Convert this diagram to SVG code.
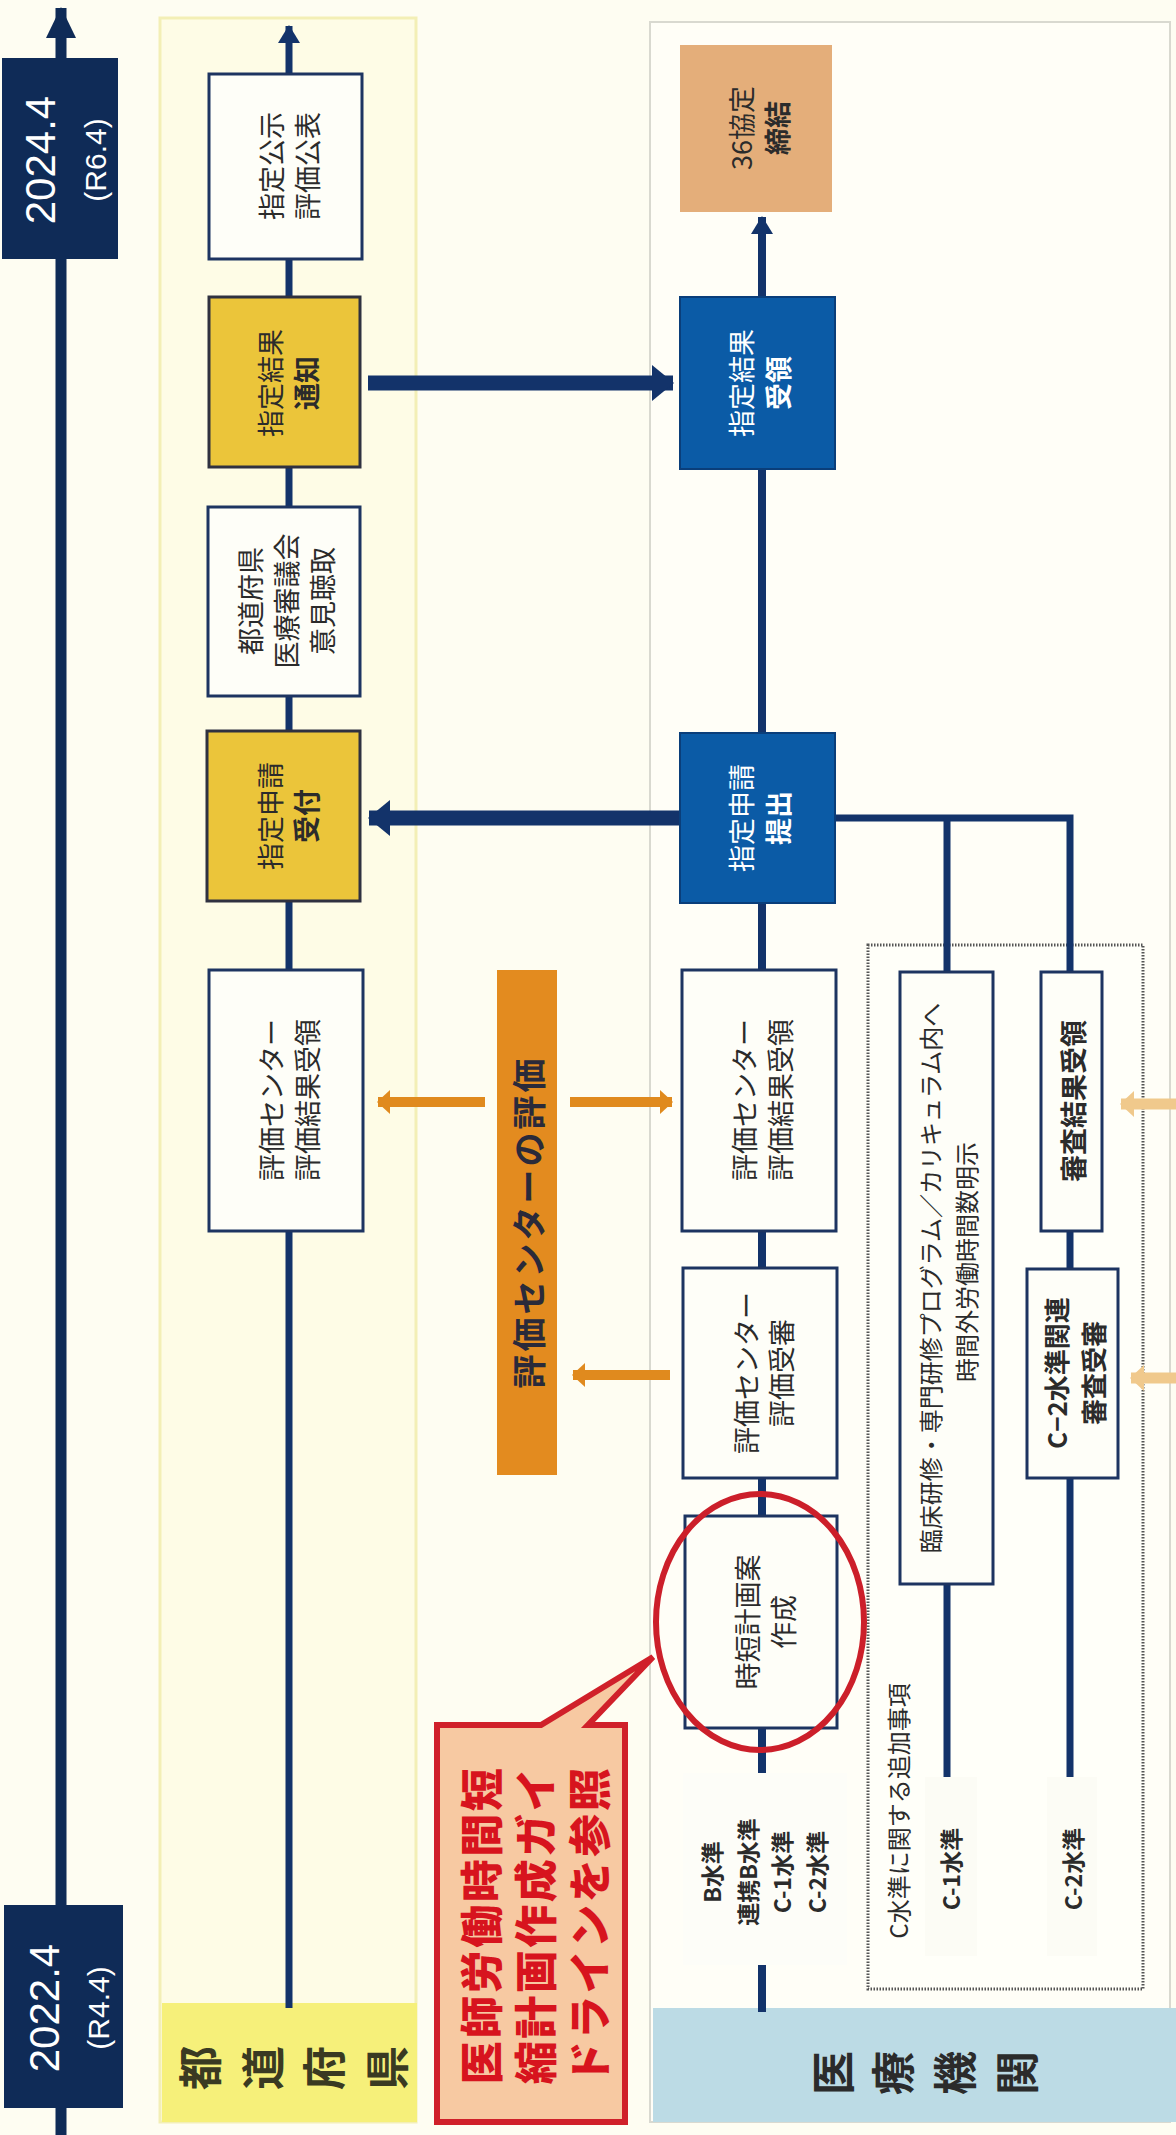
<svg xmlns="http://www.w3.org/2000/svg" width="1176" height="2135" viewBox="0 0 1176 2135">
<style>
text{font-family:"Noto Sans CJK JP","Noto Sans",sans-serif;text-anchor:middle;dominant-baseline:central;fill:#2b2b2b}
.bx{font-size:27px}
.b{font-weight:bold}
.w{fill:#ffffff}
.red{fill:#d7141e;font-weight:900;font-size:43px;letter-spacing:2.5px}
.olive{fill:#3a3a22}
.bar{fill:#2a2a3a;font-weight:bold;font-size:34px;letter-spacing:3px}
.num{font-family:"Liberation Sans",Arial,sans-serif;fill:#ffffff}
.wbox{fill:#fefef8;stroke:#1d3461;stroke-width:3}
.ybox{fill:#ebc53a;stroke:#2f3140;stroke-width:3}
.blbox{fill:#0b5ba6;stroke:#0a3e7a;stroke-width:2}
.nav{stroke:#13336a;fill:none}
.org{stroke:#e08a1e;stroke-width:10;fill:none}
.tan{stroke:#f0c98c;stroke-width:11;fill:none}
.lab{font-size:44px;font-weight:bold}
</style>
<defs>
<marker id="ahBig" markerUnits="userSpaceOnUse" markerWidth="22" markerHeight="36" refX="21" refY="18" orient="auto"><path d="M0,0 L22,18 L0,36 z" fill="#13336a"/></marker>
<marker id="ahSm" markerUnits="userSpaceOnUse" markerWidth="18" markerHeight="22" refX="17" refY="11" orient="auto"><path d="M0,0 L18,11 L0,22 z" fill="#13336a"/></marker>
<marker id="ahTime" markerUnits="userSpaceOnUse" markerWidth="31" markerHeight="30" refX="30" refY="15" orient="auto"><path d="M0,0 L31,15 L0,30 z" fill="#0f2b57"/></marker>
<marker id="ahOrg" markerUnits="userSpaceOnUse" markerWidth="13" markerHeight="24" refX="12" refY="12" orient="auto"><path d="M0,0 L13,12 L0,24 z" fill="#e08a1e"/></marker>
<marker id="ahTan" markerUnits="userSpaceOnUse" markerWidth="14" markerHeight="26" refX="13" refY="13" orient="auto"><path d="M0,0 L14,13 L0,26 z" fill="#f0c98c"/></marker>
</defs>

<rect x="0" y="0" width="1176" height="2135" fill="#fefdf2"/>

<!-- lanes -->
<g id="lane-pref">
<rect x="160" y="18" width="256" height="2104" fill="#fefce6" stroke="#f3efb6" stroke-width="3"/>
<rect x="162" y="2003" width="255" height="119" fill="#f6f07a"/>
<text class="lab olive" transform="translate(198,2068) rotate(-90)">都</text>
<text class="lab olive" transform="translate(261,2068) rotate(-90)">道</text>
<text class="lab olive" transform="translate(322,2068) rotate(-90)">府</text>
<text class="lab olive" transform="translate(385,2068) rotate(-90)">県</text>
</g>
<g id="lane-med">
<rect x="650" y="22" width="520" height="2100" fill="#fffef7" stroke="#d9d9d0" stroke-width="2"/>
<rect x="653" y="2008" width="523" height="114" fill="#bcdbe5"/>
<text class="lab" transform="translate(831,2073) rotate(-90)">医</text>
<text class="lab" transform="translate(891,2073) rotate(-90)">療</text>
<text class="lab" transform="translate(953,2073) rotate(-90)">機</text>
<text class="lab" transform="translate(1015,2073) rotate(-90)">関</text>
<rect x="868" y="945" width="275" height="1044" fill="#fffff9" stroke="#555" stroke-width="3" stroke-dasharray="1.5 1.5"/>
</g>

<!-- connectors -->
<g id="connectors">
<line x1="61" y1="2135" x2="61" y2="8" stroke="#0f2b57" stroke-width="11" marker-end="url(#ahTime)"/>
<line class="nav" x1="289" y1="2008" x2="289" y2="26" stroke-width="7" marker-end="url(#ahSm)"/>
<line class="nav" x1="762" y1="2012" x2="762" y2="217" stroke-width="8" marker-end="url(#ahSm)"/>
<line class="nav" x1="368" y1="383" x2="673" y2="383" stroke-width="15" marker-end="url(#ahBig)"/>
<line class="nav" x1="680" y1="818" x2="369" y2="818" stroke-width="15" marker-end="url(#ahBig)"/>
<polyline class="nav" points="835,818 1070,818 1070,1777" stroke-width="7"/>
<line class="nav" x1="947" y1="818" x2="947" y2="1777" stroke-width="7"/>
<line class="org" x1="485" y1="1102" x2="378" y2="1102" marker-end="url(#ahOrg)"/>
<line class="org" x1="570" y1="1102" x2="672" y2="1102" marker-end="url(#ahOrg)"/>
<line class="org" x1="670" y1="1375" x2="573" y2="1375" marker-end="url(#ahOrg)"/>
<line class="tan" x1="1176" y1="1104" x2="1121" y2="1104" marker-end="url(#ahTan)"/>
<line class="tan" x1="1176" y1="1378" x2="1131" y2="1378" marker-end="url(#ahTan)"/>
</g>

<!-- timeline labels -->
<g id="t2024">
<rect x="2" y="58" width="116" height="201" fill="#0f2b57"/>
<text class="num" font-size="42" transform="translate(40,160) rotate(-90)">2024.4</text>
<text class="num" font-size="30" transform="translate(95,160) rotate(-90)">(R6.4)</text>
</g>
<g id="t2022">
<rect x="4" y="1905" width="119" height="203" fill="#0f2b57"/>
<text class="num" font-size="42" transform="translate(44,2008) rotate(-90)">2022.4</text>
<text class="num" font-size="30" transform="translate(98,2008) rotate(-90)">(R4.4)</text>
</g>

<!-- prefecture nodes -->
<g id="p-koji">
<rect class="wbox" x="209" y="74" width="153" height="185"/>
<text class="bx" transform="translate(270,166) rotate(-90)">指定公示</text>
<text class="bx" transform="translate(306,166) rotate(-90)">評価公表</text>
</g>
<g id="p-tsuchi">
<rect class="ybox" x="209" y="297" width="151" height="170"/>
<text class="bx" transform="translate(269,383) rotate(-90)">指定結果</text>
<text class="bx b" transform="translate(305,383) rotate(-90)">通知</text>
</g>
<g id="p-shingikai">
<rect class="wbox" x="208" y="507" width="152" height="189"/>
<text class="bx" transform="translate(249,601) rotate(-90)">都道府県</text>
<text class="bx" transform="translate(285,601) rotate(-90)">医療審議会</text>
<text class="bx" transform="translate(321,601) rotate(-90)">意見聴取</text>
</g>
<g id="p-uketsuke">
<rect class="ybox" x="207" y="731" width="153" height="170"/>
<text class="bx" transform="translate(269,816) rotate(-90)">指定申請</text>
<text class="bx b" transform="translate(305,816) rotate(-90)">受付</text>
</g>
<g id="p-juryo">
<rect class="wbox" x="209" y="970" width="154" height="261"/>
<text class="bx" transform="translate(270,1100) rotate(-90)">評価センター</text>
<text class="bx" transform="translate(306,1100) rotate(-90)">評価結果受領</text>
</g>

<!-- evaluation center bar -->
<g id="eval-center">
<rect x="497" y="970" width="60" height="505" fill="#e38b1f"/>
<text class="bar" transform="translate(527,1222) rotate(-90)">評価センターの評価</text>
</g>

<!-- medical institution nodes -->
<g id="m-36">
<rect x="680" y="45" width="152" height="167" fill="#e4ae7a"/>
<text class="bx" transform="translate(740,128) rotate(-90)">36協定</text>
<text class="bx b" transform="translate(776,128) rotate(-90)">締結</text>
</g>
<g id="m-juryo">
<rect class="blbox" x="680" y="297" width="155" height="172"/>
<text class="bx w" transform="translate(740,383) rotate(-90)">指定結果</text>
<text class="bx b w" transform="translate(777,383) rotate(-90)">受領</text>
</g>
<g id="m-teishutsu">
<rect class="blbox" x="680" y="733" width="155" height="170"/>
<text class="bx w" transform="translate(740,818) rotate(-90)">指定申請</text>
<text class="bx b w" transform="translate(777,818) rotate(-90)">提出</text>
</g>
<g id="m-kekka">
<rect class="wbox" x="682" y="970" width="154" height="261"/>
<text class="bx" transform="translate(743,1100) rotate(-90)">評価センター</text>
<text class="bx" transform="translate(779,1100) rotate(-90)">評価結果受領</text>
</g>
<g id="m-jushin">
<rect class="wbox" x="683" y="1268" width="154" height="210"/>
<text class="bx" transform="translate(745,1373) rotate(-90)">評価センター</text>
<text class="bx" transform="translate(780,1373) rotate(-90)">評価受審</text>
</g>
<g id="m-jitan">
<rect class="wbox" x="685" y="1516" width="152" height="212"/>
<text class="bx" transform="translate(746,1622) rotate(-90)">時短計画案</text>
<text class="bx" transform="translate(782,1622) rotate(-90)">作成</text>
</g>
<g id="m-levels">
<rect x="683" y="1773" width="164" height="192" fill="#fdfdf8"/>
<text class="b" font-size="23" transform="translate(711,1872) rotate(-90)">B水準</text>
<text class="b" font-size="23" transform="translate(747,1872) rotate(-90)">連携B水準</text>
<text class="b" font-size="23" transform="translate(781,1872) rotate(-90)">C-1水準</text>
<text class="b" font-size="23" transform="translate(816,1872) rotate(-90)">C-2水準</text>
</g>
<g id="m-c-note">
<text font-size="24" transform="translate(897,1811) rotate(-90)">C水準に関する追加事項</text>
</g>
<g id="m-rinsho">
<rect class="wbox" x="900" y="972" width="93" height="612"/>
<text font-size="24" transform="translate(929,1278) rotate(-90)">臨床研修・専門研修プログラム／カリキュラム内へ</text>
<text font-size="24" transform="translate(965,1262) rotate(-90)">時間外労働時間数明示</text>
</g>
<g id="m-shinsa-juryo">
<rect class="wbox" x="1041" y="972" width="61" height="259"/>
<text class="b" font-size="27" transform="translate(1072,1101) rotate(-90)">審査結果受領</text>
</g>
<g id="m-c2-jushin">
<rect class="wbox" x="1027" y="1269" width="91" height="209"/>
<text class="b" font-size="26" transform="translate(1055,1373) rotate(-90)">C−2水準関連</text>
<text class="b" font-size="26" transform="translate(1092,1373) rotate(-90)">審査受審</text>
</g>
<g id="m-c1-label">
<rect x="925" y="1777" width="52" height="179" fill="#fcfcf5"/>
<text class="b" font-size="23" transform="translate(950,1869) rotate(-90)">C-1水準</text>
</g>
<g id="m-c2-label">
<rect x="1047" y="1777" width="50" height="179" fill="#fcfcf5"/>
<text class="b" font-size="23" transform="translate(1072,1869) rotate(-90)">C-2水準</text>
</g>

<!-- highlight -->
<g id="highlight">
<ellipse cx="760" cy="1622" rx="104" ry="128" fill="none" stroke="#cc1f2a" stroke-width="6"/>
</g>
<g id="callout">
<path d="M437,1725 H541 L653,1657 L588,1725 H625 V2122 H437 Z" fill="#f7c9a2" stroke="#d0202a" stroke-width="6" stroke-linejoin="miter"/>
<text class="red" transform="translate(479,1925) rotate(-90)">医師労働時間短</text>
<text class="red" transform="translate(533,1925) rotate(-90)">縮計画作成ガイ</text>
<text class="red" transform="translate(587,1925) rotate(-90)">ドラインを参照</text>
</g>
</svg>
